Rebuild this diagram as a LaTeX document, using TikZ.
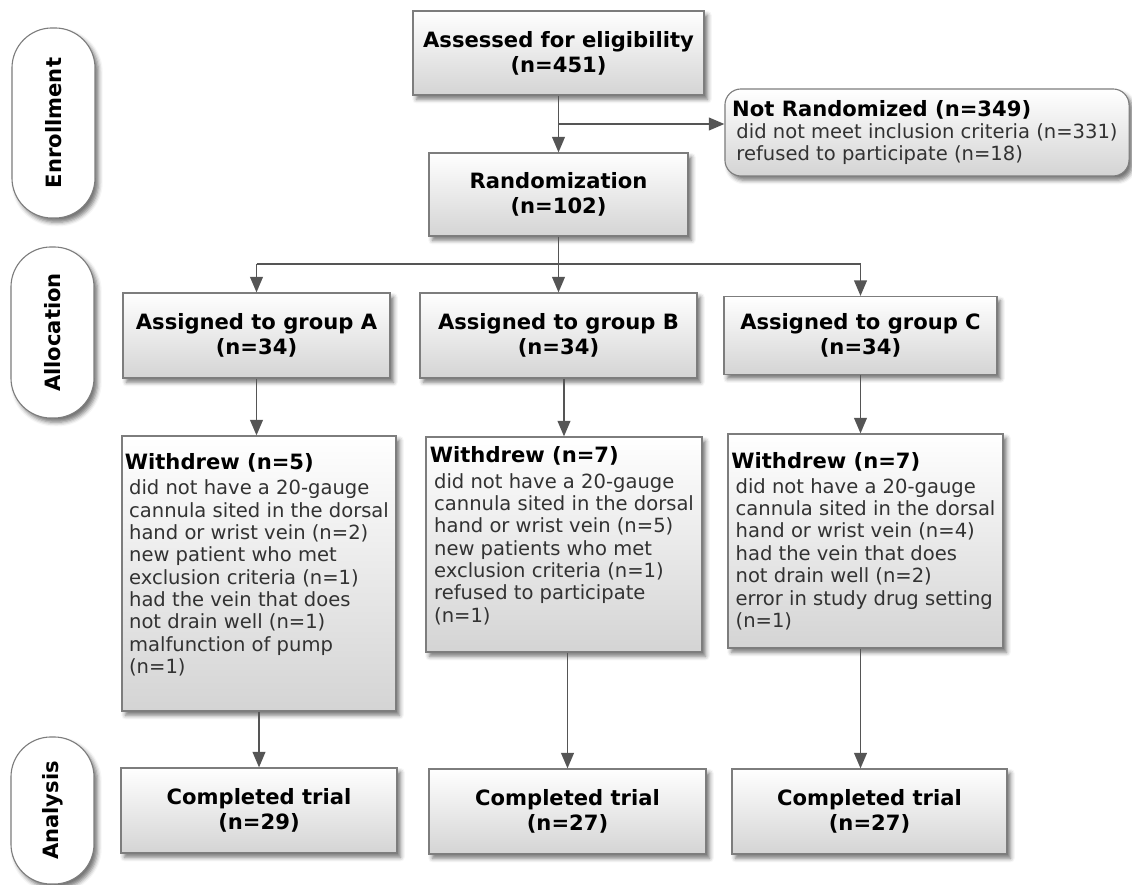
\documentclass[tikz,border=0pt]{standalone}
\usepackage{graphicx}
\usepackage{fontspec}
\setmainfont{DejaVu Sans}
\usetikzlibrary{arrows.meta, positioning, calc, shadows.blur}
\definecolor{FlowLine}{RGB}{85, 85, 85}
\definecolor{FlowEdge}{RGB}{125, 125, 125}
\definecolor{FlowShade}{RGB}{212, 212, 212}
\definecolor{FlowText}{RGB}{50, 50, 50}
\newcommand{\headfont}{\bfseries\fontsize{15}{17.8}\selectfont}
\newcommand{\bodyfont}{\fontsize{13.9}{15.9}\selectfont}
\newcommand{\wdhead}[1]{\hspace*{-3pt}{\headfont\color{black}#1}}

\begin{document}
\begin{tikzpicture}[
        x=0.025cm, y=-0.025cm,
        shade/.style={blur shadow={shadow xshift=2.5pt, shadow yshift=-3pt, shadow blur radius=3pt, shadow opacity=55}},
        box/.style={rectangle, draw=FlowEdge, line width=0.8pt, top color=white, bottom color=FlowShade, shade, align=center, font=\headfont},
        notebox/.style={box, rounded corners=0.4cm, align=left, font=\bodyfont, text=FlowText},
        wdbox/.style={box, align=left, font=\bodyfont, text=FlowText},
        phase/.style={rectangle, draw=FlowEdge, line width=0.8pt, fill=white, shade, rounded corners=1cm, minimum width=2.075cm, font=\headfont},
        flow/.style={draw=FlowLine, line width=1.3pt},
        arr/.style={flow, -{Triangle[length=11pt, width=9pt]}}
    ]
        \useasboundingbox (0,0) rectangle (1132,885);

        % phases
        \node[phase, minimum height=4.75cm] (enrol) at (53.5,123) {\rotatebox{90}{Enrollment}};
        \node[phase, minimum height=4.275cm] (alloc) at (52.5,332.5) {\rotatebox{90}{Allocation}};
        \node[phase, minimum height=3.675cm] (anal) at (52.5,810.5) {\rotatebox{90}{Analysis}};

        % enrollment
        \node[box, minimum width=7.275cm, minimum height=2.1cm] (assess) at (558.5,53) {Assessed for eligibility\\(n=451)};
        \node[notebox, minimum width=10.1cm, minimum height=2.175cm] (notrand) at (927,132.5) {\wdhead{Not Randomized (n=349)}\\did not meet inclusion criteria (n=331)\\refused to participate (n=18)};
        \node[box, minimum width=6.475cm, minimum height=2.075cm] (rand) at (558.5,194.5) {Randomization\\(n=102)};

        % allocation
        \node[box, minimum width=6.675cm, minimum height=2.125cm] (grpA) at (256.5,335.5) {Assigned to group A\\(n=34)};
        \node[box, minimum width=6.925cm, minimum height=2.125cm] (grpB) at (558.5,335.5) {Assigned to group B\\(n=34)};
        \node[box, minimum width=6.825cm, minimum height=1.95cm] (grpC) at (860.5,335.5) {Assigned to group C\\(n=34)};

        \node[wdbox, minimum width=6.85cm, minimum height=6.875cm, text depth=0.5cm] (wdA) at (259,573.5) {\wdhead{Withdrew (n=5)}\\[2pt]did not have a 20-gauge\\cannula sited in the dorsal\\hand or wrist vein (n=2)\\new patient who met\\exclusion criteria (n=1)\\had the vein that does\\not drain well (n=1)\\malfunction of pump\\(n=1)};
        \node[wdbox, minimum width=6.9cm, minimum height=5.375cm, text depth=0.5cm] (wdB) at (564,544.5) {\wdhead{Withdrew (n=7)}\\[2pt]did not have a 20-gauge\\cannula sited in the dorsal\\hand or wrist vein (n=5)\\new patients who met\\exclusion criteria (n=1)\\refused to participate\\(n=1)};
        \node[wdbox, minimum width=6.875cm, minimum height=5.35cm] (wdC) at (865.5,541) {\wdhead{Withdrew (n=7)}\\[2pt]did not have a 20-gauge\\cannula sited in the dorsal\\hand or wrist vein (n=4)\\had the vein that does\\not drain well (n=2)\\error in study drug setting\\(n=1)};

        % analysis
        \node[box, minimum width=6.9cm, minimum height=2.125cm] (compA) at (259,810.5) {Completed trial\\(n=29)};
        \node[box, minimum width=6.925cm, minimum height=2.125cm] (compB) at (567.5,811.5) {Completed trial\\(n=27)};
        \node[box, minimum width=6.875cm, minimum height=2.125cm] (compC) at (869.5,811.5) {Completed trial\\(n=27)};

        % connectors
        \coordinate (nrsplit) at (558.5,124);
        \coordinate (grpsplit) at (558.5,264);
        \draw[arr] (assess) -- (rand);
        \draw[arr] (nrsplit) -- (nrsplit -| notrand.west);
        \draw[arr] (rand) -- (grpB);
        \draw[flow] (grpsplit -| grpA) -- (grpsplit -| grpC);
        \draw[arr] (grpsplit -| grpA) -- (grpA);
        \draw[arr] (grpsplit -| grpC) -- (grpC);
        \draw[arr] (grpA) -- (grpA |- wdA.north);
        \draw[arr] (wdB.north |- grpB.south) -- (wdB);
        \draw[arr] (grpC) -- (grpC |- wdC.north);
        \draw[arr] (wdA) -- (wdA |- compA.north);
        \draw[arr] (compB.north |- wdB.south) -- (compB);
        \draw[arr] (grpC |- wdC.south) -- (grpC |- compC.north);
    \end{tikzpicture}
\end{document}
